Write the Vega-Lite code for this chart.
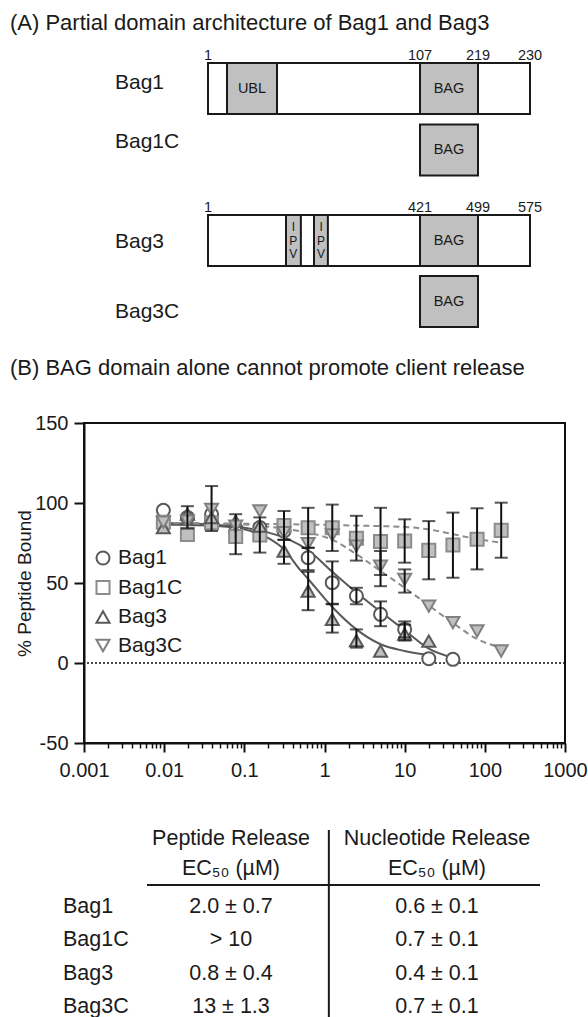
{
  "$schema": "https://vega.github.io/schema/vega-lite/v6.json",
  "padding": 0,
  "spacing": 0,
  "background": "white",
  "config": {"view": {"stroke": null}, "font": "Liberation Sans"},
  "datasets": {
    "domains": [
      {"protein": "Bag1", "family": "Bag1", "track": 1, "domain": "full", "label": "", "start": 1, "end": 230, "mid": 115},
      {"protein": "Bag1", "family": "Bag1", "track": 1, "domain": "UBL", "label": "UBL", "start": 10.5, "end": 35.5, "mid": 23},
      {"protein": "Bag1", "family": "Bag1", "track": 1, "domain": "BAG", "label": "BAG", "start": 107, "end": 219, "mid": 163},
      {"protein": "Bag1C", "family": "Bag1", "track": 2, "domain": "BAG", "label": "BAG", "start": 107, "end": 219, "mid": 163},
      {"protein": "Bag3", "family": "Bag3", "track": 3, "domain": "full", "label": "", "start": 1, "end": 575, "mid": 288},
      {"protein": "Bag3", "family": "Bag3", "track": 3, "domain": "IPV", "label": "I\nP\nV", "start": 155.5, "end": 185, "mid": 170},
      {"protein": "Bag3", "family": "Bag3", "track": 3, "domain": "IPV", "label": "I\nP\nV", "start": 211, "end": 238.5, "mid": 225},
      {"protein": "Bag3", "family": "Bag3", "track": 3, "domain": "BAG", "label": "BAG", "start": 421, "end": 499, "mid": 460},
      {"protein": "Bag3C", "family": "Bag3", "track": 4, "domain": "BAG", "label": "BAG", "start": 421, "end": 499, "mid": 460}
    ],
    "residues": [
      {"family": "Bag1", "track": 1, "residue": 1},
      {"family": "Bag1", "track": 1, "residue": 107},
      {"family": "Bag1", "track": 1, "residue": 219},
      {"family": "Bag1", "track": 1, "residue": 230},
      {"family": "Bag3", "track": 3, "residue": 1},
      {"family": "Bag3", "track": 3, "residue": 421},
      {"family": "Bag3", "track": 3, "residue": 499},
      {"family": "Bag3", "track": 3, "residue": 575}
    ],
    "labels": [
      {"kind": "title", "track": 0, "text": "(A) Partial domain architecture of Bag1 and Bag3"},
      {"kind": "name", "track": 1, "text": "Bag1"},
      {"kind": "name", "track": 2, "text": "Bag1C"},
      {"kind": "name", "track": 3, "text": "Bag3"},
      {"kind": "name", "track": 4, "text": "Bag3C"},
      {"kind": "title", "track": 5, "text": "(B) BAG domain alone cannot promote client release"}
    ],
    "points": [
      {"series": "Bag1", "conc": 0.00977, "pct": 95.4},
      {"series": "Bag1", "conc": 0.0195, "pct": 91},
      {"series": "Bag1", "conc": 0.039, "pct": 92.9},
      {"series": "Bag1", "conc": 0.078, "pct": 82},
      {"series": "Bag1", "conc": 0.156, "pct": 84.6},
      {"series": "Bag1", "conc": 0.3125, "pct": 82.5},
      {"series": "Bag1", "conc": 0.625, "pct": 65.8, "lo": 58, "hi": 72},
      {"series": "Bag1", "conc": 1.25, "pct": 50.2, "lo": 37, "hi": 63.5},
      {"series": "Bag1", "conc": 2.5, "pct": 41.9, "lo": 36.7, "hi": 47},
      {"series": "Bag1", "conc": 5, "pct": 30.4, "lo": 23, "hi": 38.5},
      {"series": "Bag1", "conc": 10, "pct": 21, "lo": 16, "hi": 26},
      {"series": "Bag1", "conc": 20, "pct": 2.7},
      {"series": "Bag1", "conc": 40, "pct": 2.3},
      {"series": "Bag1C", "conc": 0.00977, "pct": 88},
      {"series": "Bag1C", "conc": 0.0195, "pct": 80.4},
      {"series": "Bag1C", "conc": 0.039, "pct": 87.7},
      {"series": "Bag1C", "conc": 0.078, "pct": 79, "lo": 68, "hi": 93},
      {"series": "Bag1C", "conc": 0.156, "pct": 80, "lo": 69, "hi": 91},
      {"series": "Bag1C", "conc": 0.3125, "pct": 86, "lo": 77, "hi": 95},
      {"series": "Bag1C", "conc": 0.625, "pct": 84.5, "lo": 72, "hi": 97},
      {"series": "Bag1C", "conc": 1.25, "pct": 84.5, "lo": 70, "hi": 99},
      {"series": "Bag1C", "conc": 2.5, "pct": 78, "lo": 64, "hi": 92},
      {"series": "Bag1C", "conc": 5, "pct": 76, "lo": 55, "hi": 97},
      {"series": "Bag1C", "conc": 10, "pct": 76.3, "lo": 62.7, "hi": 89.8},
      {"series": "Bag1C", "conc": 20, "pct": 70.4, "lo": 52.3, "hi": 88.7},
      {"series": "Bag1C", "conc": 40, "pct": 73.7, "lo": 53.3, "hi": 94},
      {"series": "Bag1C", "conc": 80, "pct": 77.3, "lo": 58.5, "hi": 96.7},
      {"series": "Bag1C", "conc": 160, "pct": 82.9, "lo": 65.8, "hi": 100.2},
      {"series": "Bag3", "conc": 0.00977, "pct": 84.6},
      {"series": "Bag3", "conc": 0.0195, "pct": 93, "lo": 84, "hi": 98},
      {"series": "Bag3", "conc": 0.039, "pct": 90.8},
      {"series": "Bag3", "conc": 0.078, "pct": 88.7},
      {"series": "Bag3", "conc": 0.156, "pct": 85.6},
      {"series": "Bag3", "conc": 0.3125, "pct": 70, "lo": 62, "hi": 77},
      {"series": "Bag3", "conc": 0.625, "pct": 45, "lo": 33, "hi": 57},
      {"series": "Bag3", "conc": 1.25, "pct": 27.3, "lo": 19, "hi": 36.7},
      {"series": "Bag3", "conc": 2.5, "pct": 14, "lo": 9.6, "hi": 21},
      {"series": "Bag3", "conc": 5, "pct": 7.5},
      {"series": "Bag3", "conc": 10, "pct": 18, "lo": 14, "hi": 24},
      {"series": "Bag3", "conc": 20, "pct": 13.7},
      {"series": "Bag3C", "conc": 0.00977, "pct": 88},
      {"series": "Bag3C", "conc": 0.0195, "pct": 88.7},
      {"series": "Bag3C", "conc": 0.039, "pct": 96, "lo": 82.5, "hi": 110.6},
      {"series": "Bag3C", "conc": 0.078, "pct": 85.6},
      {"series": "Bag3C", "conc": 0.156, "pct": 95},
      {"series": "Bag3C", "conc": 0.3125, "pct": 81.5},
      {"series": "Bag3C", "conc": 0.625, "pct": 74.6},
      {"series": "Bag3C", "conc": 1.25, "pct": 80},
      {"series": "Bag3C", "conc": 2.5, "pct": 73},
      {"series": "Bag3C", "conc": 5, "pct": 60.6, "lo": 48, "hi": 70},
      {"series": "Bag3C", "conc": 10, "pct": 52.3, "lo": 44, "hi": 58.5},
      {"series": "Bag3C", "conc": 20, "pct": 35.6},
      {"series": "Bag3C", "conc": 40, "pct": 25.2},
      {"series": "Bag3C", "conc": 80, "pct": 20},
      {"series": "Bag3C", "conc": 160, "pct": 7.5}
    ],
    "fits": [
      {"series": "Bag1", "conc": 0.00977, "pct": 87.5},
      {"series": "Bag1", "conc": 0.03, "pct": 86.8},
      {"series": "Bag1", "conc": 0.1, "pct": 84.5},
      {"series": "Bag1", "conc": 0.2, "pct": 81.5},
      {"series": "Bag1", "conc": 0.357, "pct": 77.3},
      {"series": "Bag1", "conc": 0.625, "pct": 70.5},
      {"series": "Bag1", "conc": 1.25, "pct": 57},
      {"series": "Bag1", "conc": 2.5, "pct": 44},
      {"series": "Bag1", "conc": 5, "pct": 32},
      {"series": "Bag1", "conc": 10, "pct": 20.5},
      {"series": "Bag1", "conc": 20, "pct": 9},
      {"series": "Bag1", "conc": 40, "pct": 3.3},
      {"series": "Bag1C", "conc": 0.00977, "pct": 87.5},
      {"series": "Bag1C", "conc": 0.357, "pct": 86.7},
      {"series": "Bag1C", "conc": 2, "pct": 86},
      {"series": "Bag1C", "conc": 10, "pct": 85},
      {"series": "Bag1C", "conc": 20, "pct": 83.5},
      {"series": "Bag1C", "conc": 40, "pct": 80.5},
      {"series": "Bag1C", "conc": 80, "pct": 77.5},
      {"series": "Bag1C", "conc": 160, "pct": 75.2},
      {"series": "Bag3", "conc": 0.00977, "pct": 86.5},
      {"series": "Bag3", "conc": 0.05, "pct": 85.5},
      {"series": "Bag3", "conc": 0.1, "pct": 83.5},
      {"series": "Bag3", "conc": 0.2, "pct": 78},
      {"series": "Bag3", "conc": 0.3125, "pct": 71},
      {"series": "Bag3", "conc": 0.5, "pct": 58},
      {"series": "Bag3", "conc": 0.625, "pct": 52.5},
      {"series": "Bag3", "conc": 1.25, "pct": 35},
      {"series": "Bag3", "conc": 2.5, "pct": 21},
      {"series": "Bag3", "conc": 5, "pct": 11.7},
      {"series": "Bag3", "conc": 10, "pct": 7.5},
      {"series": "Bag3", "conc": 20, "pct": 5},
      {"series": "Bag3C", "conc": 0.00977, "pct": 87.5},
      {"series": "Bag3C", "conc": 0.1, "pct": 86.5},
      {"series": "Bag3C", "conc": 0.357, "pct": 83.5},
      {"series": "Bag3C", "conc": 0.625, "pct": 81.5},
      {"series": "Bag3C", "conc": 1.25, "pct": 77},
      {"series": "Bag3C", "conc": 2.5, "pct": 68},
      {"series": "Bag3C", "conc": 5, "pct": 57.5},
      {"series": "Bag3C", "conc": 10, "pct": 47},
      {"series": "Bag3C", "conc": 20, "pct": 36},
      {"series": "Bag3C", "conc": 40, "pct": 25},
      {"series": "Bag3C", "conc": 80, "pct": 15},
      {"series": "Bag3C", "conc": 160, "pct": 9.6}
    ],
    "table": [
      {"row": 0, "protein": "", "peptide": "Peptide Release", "nucleotide": "Nucleotide Release"},
      {"row": 1, "protein": "", "peptide": "EC₅₀ (µM)", "nucleotide": "EC₅₀ (µM)"},
      {"row": 2, "protein": "Bag1", "peptide": "2.0 ± 0.7", "nucleotide": "0.6 ± 0.1"},
      {"row": 3, "protein": "Bag1C", "peptide": "> 10", "nucleotide": "0.7 ± 0.1"},
      {"row": 4, "protein": "Bag3", "peptide": "0.8 ± 0.4", "nucleotide": "0.4 ± 0.1"},
      {"row": 5, "protein": "Bag3C", "peptide": "13 ± 1.3", "nucleotide": "0.7 ± 0.1"}
    ]
  },
  "vconcat": [
    {
      "width": 505,
      "height": 412,
      "resolve": {"scale": {"x": "independent", "y": "independent"}},
      "layer": [
        {
          "layer": [
            {
              "data": {"name": "domains"},
              "transform": [{"filter": "datum.family === 'Bag1'"}],
              "mark": {"type": "rect", "yOffset": -25.5, "y2Offset": 25.5, "stroke": "#1a1a1a", "strokeWidth": 2},
              "encoding": {
                "x": {"field": "start", "type": "quantitative", "scale": {"domain": [1, 107, 219, 230], "range": [124, 336, 394, 446], "zero": false, "nice": false}, "axis": null},
                "x2": {"field": "end"},
                "y": {"field": "track", "type": "quantitative", "scale": {"domain": [1, 2, 3, 4], "range": [88.5, 150, 240.5, 301.5], "zero": false, "nice": false}, "axis": null},
                "y2": {"field": "track"},
                "fill": {"field": "domain", "type": "nominal", "scale": {"domain": ["full", "UBL", "BAG", "IPV"], "range": ["#ffffff", "#c0c0c0", "#c0c0c0", "#c0c0c0"]}, "legend": null}
              }
            },
            {
              "data": {"name": "domains"},
              "transform": [{"filter": "datum.family === 'Bag1' && datum.domain !== 'full'"}],
              "mark": {"type": "text", "align": "center", "baseline": "middle", "fontSize": 14.5, "color": "#1a1a1a"},
              "encoding": {
                "x": {"field": "mid", "type": "quantitative"},
                "y": {"field": "track", "type": "quantitative"},
                "text": {"field": "label"}
              }
            },
            {
              "data": {"name": "residues"},
              "transform": [{"filter": "datum.family === 'Bag1'"}],
              "mark": {"type": "text", "align": "center", "baseline": "alphabetic", "dy": -28.5, "fontSize": 14.5, "color": "#1a1a1a"},
              "encoding": {
                "x": {"field": "residue", "type": "quantitative"},
                "y": {"field": "track", "type": "quantitative"},
                "text": {"field": "residue", "type": "quantitative"}
              }
            }
          ]
        },
        {
          "layer": [
            {
              "data": {"name": "domains"},
              "transform": [{"filter": "datum.family === 'Bag3'"}],
              "mark": {"type": "rect", "yOffset": -25.5, "y2Offset": 25.5, "stroke": "#1a1a1a", "strokeWidth": 2},
              "encoding": {
                "x": {"field": "start", "type": "quantitative", "scale": {"domain": [1, 421, 499, 575], "range": [124, 336, 394, 446], "zero": false, "nice": false}, "axis": null},
                "x2": {"field": "end"},
                "y": {"field": "track", "type": "quantitative", "scale": {"domain": [1, 2, 3, 4], "range": [88.5, 150, 240.5, 301.5], "zero": false, "nice": false}, "axis": null},
                "y2": {"field": "track"},
                "fill": {"field": "domain", "type": "nominal", "scale": {"domain": ["full", "UBL", "BAG", "IPV"], "range": ["#ffffff", "#c0c0c0", "#c0c0c0", "#c0c0c0"]}, "legend": null}
              }
            },
            {
              "data": {"name": "domains"},
              "transform": [{"filter": "datum.family === 'Bag3' && datum.domain === 'BAG'"}],
              "mark": {"type": "text", "align": "center", "baseline": "middle", "fontSize": 14.5, "color": "#1a1a1a"},
              "encoding": {
                "x": {"field": "mid", "type": "quantitative"},
                "y": {"field": "track", "type": "quantitative"},
                "text": {"field": "label"}
              }
            },
            {
              "data": {"name": "domains"},
              "transform": [{"filter": "datum.family === 'Bag3' && datum.domain === 'IPV'"}],
              "mark": {"type": "text", "align": "center", "baseline": "middle", "dy": -13.5, "lineBreak": "\n", "lineHeight": 13.5, "fontSize": 12, "color": "#1a1a1a"},
              "encoding": {
                "x": {"field": "mid", "type": "quantitative"},
                "y": {"field": "track", "type": "quantitative"},
                "text": {"field": "label"}
              }
            },
            {
              "data": {"name": "residues"},
              "transform": [{"filter": "datum.family === 'Bag3'"}],
              "mark": {"type": "text", "align": "center", "baseline": "alphabetic", "dy": -28.5, "fontSize": 14.5, "color": "#1a1a1a"},
              "encoding": {
                "x": {"field": "residue", "type": "quantitative"},
                "y": {"field": "track", "type": "quantitative"},
                "text": {"field": "residue", "type": "quantitative"}
              }
            }
          ]
        },
        {
          "data": {"name": "labels"},
          "mark": {"type": "text", "align": "left", "baseline": "middle", "color": "#1a1a1a"},
          "encoding": {
            "x": {"field": "kind", "type": "nominal", "scale": {"type": "point", "domain": ["title", "name"], "range": [-74, 31], "padding": 0}, "axis": null},
            "y": {"field": "track", "type": "quantitative", "scale": {"domain": [0, 1, 2, 3, 4, 5], "range": [23, 82.5, 142, 242, 312, 368], "zero": false, "nice": false}, "axis": null},
            "text": {"field": "text"},
            "size": {"condition": {"test": "datum.kind === 'title'", "value": 22}, "value": 21}
          }
        }
      ]
    },
    {
      "width": 481,
      "height": 320,
      "view": {"stroke": "#111111", "strokeWidth": 2},
      "resolve": {"axis": {"x": "independent"}},
      "layer": [
        {
          "data": {"values": [{}]},
          "mark": {"type": "rule", "strokeDash": [2, 2], "strokeWidth": 1.5, "color": "#111111"},
          "encoding": {
            "y": {"datum": 0, "type": "quantitative", "title": "% Peptide Bound", "scale": {"domain": [-50, 150], "nice": false, "zero": false}}
          }
        },
        {
          "data": {"name": "fits"},
          "transform": [{"filter": "datum.series === 'Bag1' || datum.series === 'Bag3'"}],
          "mark": {"type": "line", "interpolate": "monotone", "strokeWidth": 2, "color": "#595959"},
          "encoding": {
            "x": {
              "field": "conc", "type": "quantitative",
              "scale": {"type": "log", "domain": [0.001, 1000], "nice": false},
              "axis": {
                "orient": "bottom", "title": null, "grid": false, "labels": false, "domain": false,
                "values": [0.002, 0.003, 0.004, 0.005, 0.006, 0.007, 0.008, 0.009, 0.02, 0.03, 0.04, 0.05, 0.06, 0.07, 0.08, 0.09, 0.2, 0.3, 0.4, 0.5, 0.6, 0.7, 0.8, 0.9, 2, 3, 4, 5, 6, 7, 8, 9, 20, 30, 40, 50, 60, 70, 80, 90, 200, 300, 400, 500, 600, 700, 800, 900],
                "tickColor": "#111111", "tickWidth": 1.5, "tickSize": 5,
                "minExtent": 40, "maxExtent": 40
              }
            },
            "y": {"field": "pct", "type": "quantitative", "title": "% Peptide Bound", "scale": {"domain": [-50, 150], "nice": false, "zero": false}},
            "detail": {"field": "series", "type": "nominal"}
          }
        },
        {
          "data": {"name": "fits"},
          "transform": [{"filter": "datum.series === 'Bag1C' || datum.series === 'Bag3C'"}],
          "mark": {"type": "line", "interpolate": "monotone", "strokeWidth": 2, "color": "#8c8c8c", "strokeDash": [6, 4]},
          "encoding": {
            "x": {"field": "conc", "type": "quantitative", "scale": {"type": "log", "domain": [0.001, 1000], "nice": false}, "axis": null},
            "y": {"field": "pct", "type": "quantitative", "title": "% Peptide Bound", "scale": {"domain": [-50, 150], "nice": false, "zero": false}},
            "detail": {"field": "series", "type": "nominal"}
          }
        },
        {
          "data": {"name": "points"},
          "mark": {"type": "point", "size": 170, "strokeWidth": 2, "opacity": 1},
          "encoding": {
            "x": {
              "field": "conc", "type": "quantitative",
              "scale": {"type": "log", "domain": [0.001, 1000], "nice": false},
              "axis": {
                "orient": "bottom", "title": null, "grid": false,
                "values": [0.001, 0.01, 0.1, 1, 10, 100, 1000],
                "format": "~g",
                "labelFontSize": 20, "labelColor": "#1a1a1a", "labelPadding": 8, "labelFlush": false, "labelOverlap": false,
                "domainColor": "#111111", "domainWidth": 2,
                "tickColor": "#111111", "tickWidth": 2, "tickSize": 9,
                "minExtent": 40, "maxExtent": 40
              }
            },
            "y": {
              "field": "pct", "type": "quantitative", "title": "% Peptide Bound",
              "scale": {"domain": [-50, 150], "nice": false, "zero": false},
              "axis": {
                "title": "% Peptide Bound", "grid": false,
                "values": [-50, 0, 50, 100, 150],
                "labelExpr": "datum.value < 0 ? '-' + abs(datum.value) : '' + datum.value",
                "labelFontSize": 20, "labelColor": "#1a1a1a", "labelPadding": 6,
                "domainColor": "#111111", "domainWidth": 2,
                "tickColor": "#111111", "tickWidth": 2, "tickSize": 10,
                "titleFontSize": 19, "titleFontWeight": "normal", "titleColor": "#1a1a1a",
                "titleX": -53.5, "titleY": 160, "titleAngle": 270, "titleAlign": "center", "titleBaseline": "alphabetic",
                "minExtent": 83, "maxExtent": 83
              }
            },
            "shape": {
              "field": "series", "type": "nominal",
              "scale": {"domain": ["Bag1", "Bag1C", "Bag3", "Bag3C"], "range": ["circle", "square", "triangle-up", "triangle-down"]},
              "legend": {
                "orient": "none", "legendX": 8.5, "legendY": 547.5, "title": null, "padding": 0,
                "labelFontSize": 21, "labelColor": "#1a1a1a", "labelOffset": 4.5,
                "symbolSize": 170, "symbolStrokeWidth": 2, "rowPadding": 6.5,
                "symbolFillColor": "transparent",
                "encode": {
                  "symbols": {
                    "fill": {"condition": {"test": "datum.value === 'Bag1C' || datum.value === 'Bag3C'", "value": "#595959"}, "value": "transparent"},
                    "stroke": {"value": "#595959"}
                  }
                }
              }
            },
            "fill": {"field": "series", "type": "nominal", "scale": {"domain": ["Bag1", "Bag1C", "Bag3", "Bag3C"], "range": ["transparent", "#8c8c8c", "transparent", "#808080"]}},
            "stroke": {"field": "series", "type": "nominal", "scale": {"domain": ["Bag1", "Bag1C", "Bag3", "Bag3C"], "range": ["#595959", "#8c8c8c", "#595959", "#808080"]}}
          }
        },
        {
          "data": {"name": "points"},
          "transform": [{"filter": "isValid(datum.lo)"}],
          "mark": {"type": "errorbar", "ticks": true, "size": 13, "thickness": 2, "color": "#111111"},
          "encoding": {
            "x": {"field": "conc", "type": "quantitative", "scale": {"type": "log", "domain": [0.001, 1000], "nice": false}, "axis": null},
            "y": {"field": "lo", "type": "quantitative", "title": "% Peptide Bound", "scale": {"domain": [-50, 150], "nice": false, "zero": false}},
            "y2": {"field": "hi"}
          }
        }
      ]
    },
    {
      "width": 505,
      "height": 235,
      "layer": [
        {
          "data": {"name": "table"},
          "mark": {"type": "text", "align": "left", "baseline": "middle", "fontSize": 21.5, "color": "#1a1a1a"},
          "encoding": {
            "x": {"datum": 0, "type": "quantitative", "scale": {"domain": [0, 1, 2], "range": [-21, 147, 353], "zero": false, "nice": false}, "axis": null},
            "y": {"field": "row", "type": "quantitative", "scale": {"domain": [0, 1, 2, 5], "range": [55, 85, 123, 223], "zero": false, "nice": false}, "axis": null},
            "text": {"field": "protein"}
          }
        },
        {
          "data": {"name": "table"},
          "mark": {"type": "text", "align": "center", "baseline": "middle", "fontSize": 21.5, "color": "#1a1a1a"},
          "encoding": {
            "x": {"datum": 1, "type": "quantitative"},
            "y": {"field": "row", "type": "quantitative"},
            "text": {"field": "peptide"}
          }
        },
        {
          "data": {"name": "table"},
          "mark": {"type": "text", "align": "center", "baseline": "middle", "fontSize": 21.5, "color": "#1a1a1a"},
          "encoding": {
            "x": {"datum": 2, "type": "quantitative"},
            "y": {"field": "row", "type": "quantitative"},
            "text": {"field": "nucleotide"}
          }
        },
        {
          "data": {"values": [{}]},
          "mark": {"type": "rule", "strokeWidth": 2, "color": "#1a1a1a"},
          "encoding": {
            "x": {"datum": 0.5, "type": "quantitative"},
            "x2": {"datum": 2.5},
            "y": {"datum": 1.42, "type": "quantitative"}
          }
        },
        {
          "data": {"values": [{}]},
          "mark": {"type": "rule", "strokeWidth": 2, "color": "#1a1a1a"},
          "encoding": {
            "x": {"datum": 1.475, "type": "quantitative"},
            "y": {"datum": -0.3, "type": "quantitative"},
            "y2": {"datum": 5.36}
          }
        }
      ]
    }
  ]
}
